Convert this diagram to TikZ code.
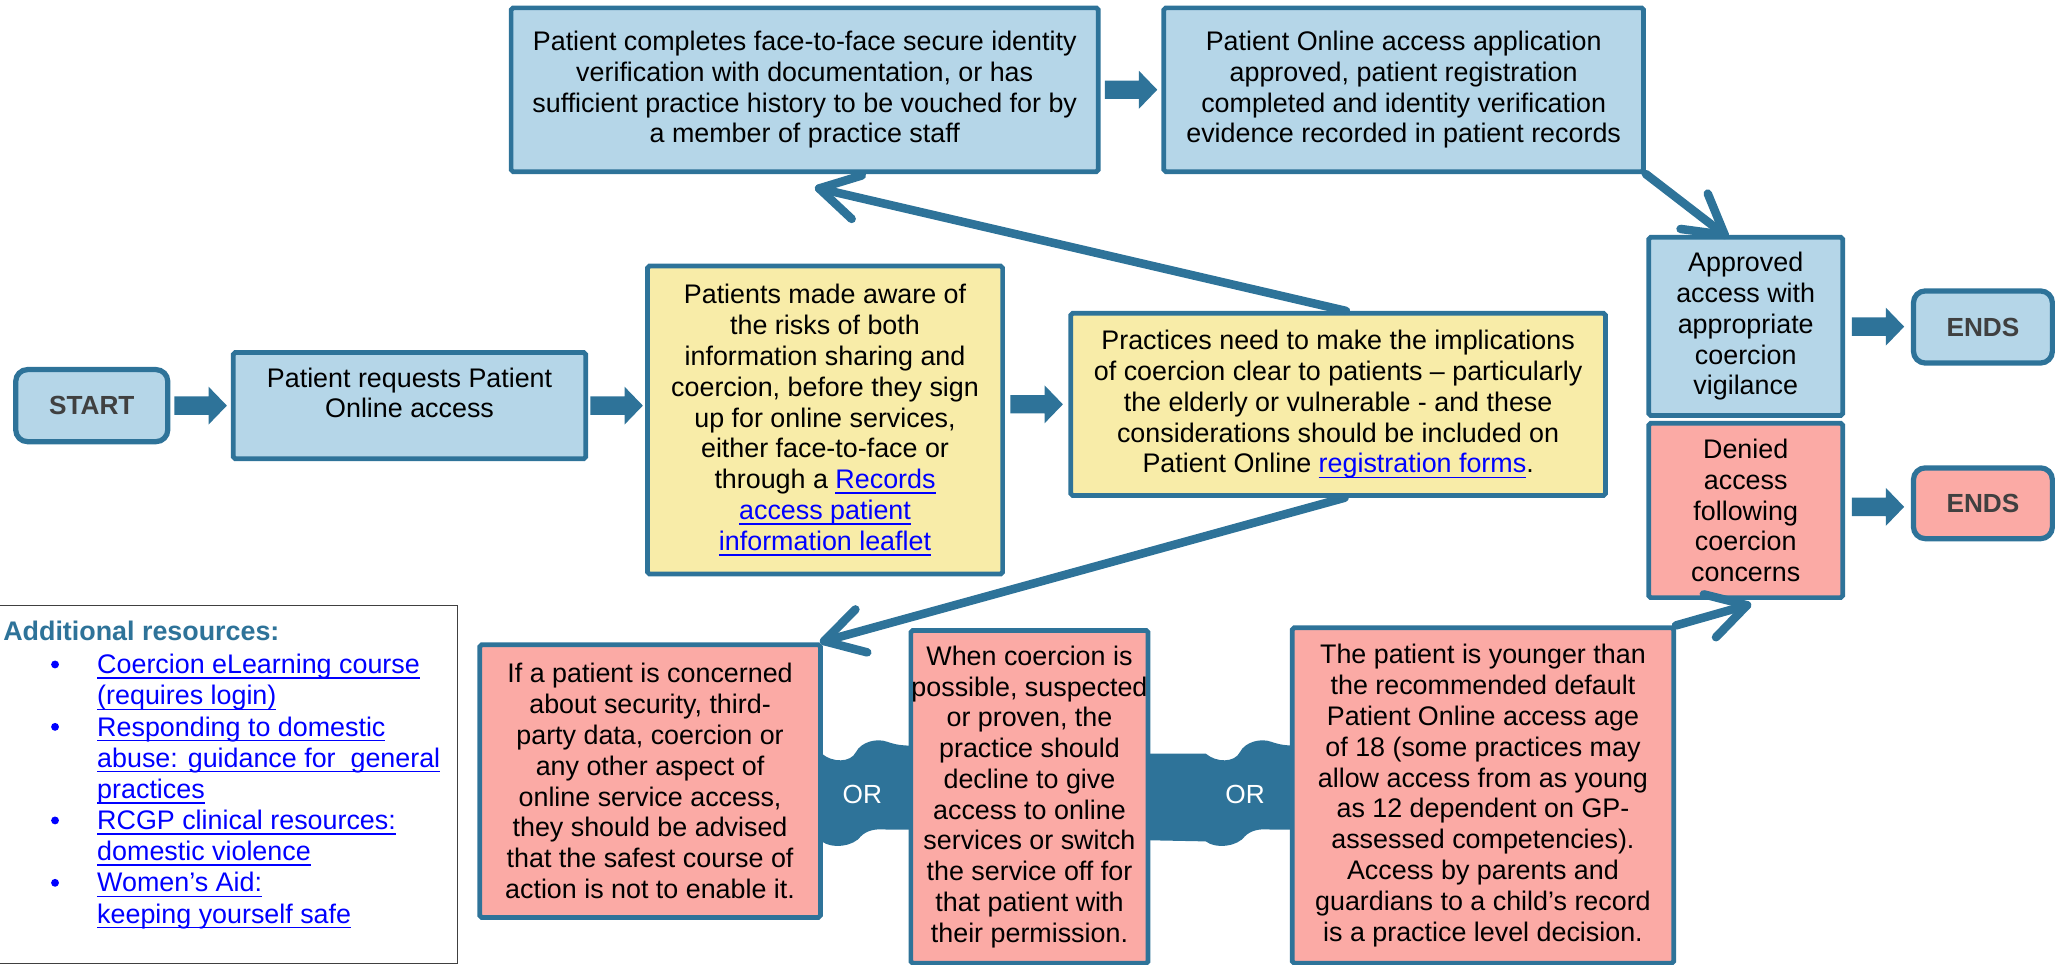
\documentclass[tikz,border=0pt]{standalone}
\usepackage{fontspec}
\setmainfont{Liberation Sans}
\usetikzlibrary{calc}
\definecolor{bord}{HTML}{2E7399}
\definecolor{bluefill}{HTML}{B5D6E8}
\definecolor{yelfill}{HTML}{F8ECA8}
\definecolor{redfill}{HTML}{FBAAA5}
\definecolor{linkblue}{HTML}{0000FF}
\definecolor{endtext}{HTML}{404040}
\newcommand\myul[1]{\leavevmode\setbox0\hbox{#1}\rlap{\rule[-4pt]{\wd0}{1.2pt}}\box0}
\newcommand\lnk[1]{{\color{linkblue}\myul{#1}}}
\newcommand\bodysize{\fontsize{20.5}{23.5}\selectfont}
\newcommand\blockarrow[1]{\fill[bord] ($(#1)+(-20,-7)$) -- ++(26,0) -- ++(0,-7.5) -- ++(14,14.5) -- ++(-14,14.5) -- ++(0,-7.5) -- ++(-26,0) -- cycle;}
\newcommand\lconn[2]{%
  \draw[conn] (#1) -- (#2);
  \draw[conn] ($(#2)!34pt!30:(#1)$) -- (#2) -- ($(#2)!34pt!-30:(#1)$);}
\newcommand\orband[3]{%
  \fill[bord] (#1,575) -- ({#3-30},575) .. controls ({#3-22},582) and ({#3-8},582) .. ({#3-4},574)
    .. controls ({#3},566) and ({#3+12},563) .. ({#3+20},566)
    .. controls ({#3+26},568) and ({#3+30},569) .. (#2,569) -- (#2,633) -- ({#3+20},633)
    .. controls ({#3+10},632) and ({#3+4},634) .. ({#3},638)
    .. controls ({#3-6},646) and ({#3-22},648) .. ({#3-30},642) -- (#1,641) -- cycle;}
\tikzset{
  box/.style={draw=bord, line width=3.6pt, rounded corners=1.5pt, align=center, inner sep=0pt, font=\bodysize, text=black},
  bluebox/.style={box, fill=bluefill},
  yelbox/.style={box, fill=yelfill},
  redbox/.style={box, fill=redfill},
  termbox/.style={draw=bord, line width=4pt, rounded corners=9pt, inner sep=0pt, font=\fontsize{20}{24}\selectfont\bfseries, text=endtext},
  conn/.style={draw=bord, line width=6.5pt, line cap=round, line join=round},
  ortext/.style={text=white, inner sep=0pt, font=\fontsize{20}{24}\selectfont},
  linkline/.style={anchor=base west, inner sep=0pt, font=\bodysize, text=linkblue},
  bulletdot/.style={fill=linkblue},
}
\begin{document}
\begin{tikzpicture}[x=1pt, y=-1pt]
\useasboundingbox (0,0) rectangle (1568,736.3);

% OR connectors (behind boxes)
\orband{620}{699}{657}
\orband{870}{992}{950}

% top row
\node[bluebox, minimum width=448pt, minimum height=125pt] (top1) at (614,68.5)
  {Patient completes face-to-face secure identity\\verification with documentation, or has\\sufficient practice history to be vouched for by\\a member of practice staff};
\node[bluebox, minimum width=366pt, minimum height=125pt] (top2) at (1071,68.5)
  {Patient Online access application\\approved, patient registration\\completed and identity verification\\evidence recorded in patient records};

% middle row
\node[termbox, fill=bluefill, minimum width=116pt, minimum height=55pt] (start) at (70,309.5) {START};
\node[bluebox, minimum width=269pt, minimum height=81pt] (req) at (312.5,309.5)
  {Patient requests Patient\\Online access\\[-4pt]};
\node[yelbox, minimum width=271pt, minimum height=235pt] (y1) at (629.5,320.5)
  {Patients made aware of\\the risks of both\\information sharing and\\coercion, before they sign\\up for online services,\\either face-to-face or\\through a \lnk{Records}\\\lnk{access patient}\\\lnk{information leaflet}};
\node[yelbox, minimum width=408pt, minimum height=139pt] (y2) at (1021,308.5)
  {Practices need to make the implications\\of coercion clear to patients – particularly\\the elderly or vulnerable - and these\\considerations should be included on\\Patient Online \lnk{registration forms}.};
\node[bluebox, minimum width=148pt, minimum height=136pt] (appr) at (1332,249)
  {Approved\\access with\\appropriate\\coercion\\vigilance};
\node[redbox, minimum width=148pt, minimum height=133pt] (deny) at (1332,389.5)
  {Denied\\access\\following\\coercion\\concerns};
\node[termbox, fill=bluefill, minimum width=106pt, minimum height=55pt] (ends1) at (1513,249.5) {ENDS};
\node[termbox, fill=redfill, minimum width=106pt, minimum height=54pt] (ends2) at (1513,384) {ENDS};

% bottom row
\node[redbox, minimum width=260pt, minimum height=208pt] (red1) at (496,596)
  {If a patient is concerned\\about security, third-\\party data, coercion or\\any other aspect of\\online service access,\\they should be advised\\that the safest course of\\action is not to enable it.};
\node[redbox, minimum width=181pt, minimum height=254pt] (red2) at (785.5,608)
  {When coercion is\\possible, suspected\\or proven, the\\practice should\\decline to give\\access to online\\services or switch\\the service off for\\that patient with\\their permission.};
\node[redbox, minimum width=291pt, minimum height=256pt] (red3) at (1131.5,607)
  {The patient is younger than\\the recommended default\\Patient Online access age\\of 18 (some practices may\\allow access from as young\\as 12 dependent on GP-\\assessed competencies).\\Access by parents and\\guardians to a child’s record\\is a practice level decision.};
\node[ortext] (or1) at (658,606) {OR};
\node[ortext] (or2) at (950,606) {OR};

% block arrows
\coordinate (ba1) at ($(start.east)!0.5!(req.west)$);
\coordinate (ba2) at ($(req.east)!0.5!(req.east -| y1.west)$);
\coordinate (ba3) at ($(y2.west)!0.5!(y2.west -| y1.east)$);
\coordinate (ba4) at ($(top1.east)!0.5!(top2.west)$);
\coordinate (ba5) at ($(appr.east)!0.5!(ends1.west)$);
\coordinate (ba6) at ($(deny.east)!0.5!(ends2.west)$);
\blockarrow{ba1}
\blockarrow{ba2}
\blockarrow{ba3}
\blockarrow{ba4}
\blockarrow{ba5}
\blockarrow{ba6}

% line connectors
\coordinate (c1s) at ($(y2.north)+(6,0)$);
\coordinate (c1e) at ($(top1.south)+(11,11)$);
\coordinate (c2s) at ($(y2.south)+(5,0)$);
\coordinate (c2e) at ($(red1.north east)+(1,-1)$);
\coordinate (c3s) at (top2.south east);
\coordinate (c3e) at ($(appr.north)+(-16,0)$);
\coordinate (c4s) at (red3.north east);
\coordinate (c4e) at ($(deny.south)+(1,4)$);
\lconn{c1s}{c1e}
\lconn{c2s}{c2e}
\lconn{c3s}{c3e}
\lconn{c4s}{c4e}

% resources
\node[draw=black!75, line width=1.2pt, fill=white, minimum width=351pt, minimum height=273pt, inner sep=0pt] (res) at (173.5,598.5) {};
\node[anchor=base west, inner sep=0pt, font=\bodysize\bfseries, text=bord] (restitle) at (2.3,489) {Additional resources:};
\node[linkline] (l0) at (74,514) {\myul{Coercion eLearning course}};
\node[linkline] (l1) at (74,537.8) {\myul{(requires login)}};
\node[linkline] (l2) at (74,561.6) {\myul{Responding to domestic}};
\node[linkline] (l3) at (74,585.4) {\myul{abuse: guidance for\ \ general}};
\node[linkline] (l4) at (74,609.2) {\myul{practices}};
\node[linkline] (l5) at (74,633) {\myul{RCGP clinical resources:}};
\node[linkline] (l6) at (74,656.8) {\myul{domestic violence}};
\node[linkline] (l7) at (74,680.6) {\myul{Women’s Aid:}};
\node[linkline] (l8) at (74,704.4) {\myul{keeping yourself safe}};
\fill[bulletdot] ($(l0.base west)+(-32,-7)$) circle (3);
\fill[bulletdot] ($(l2.base west)+(-32,-7)$) circle (3);
\fill[bulletdot] ($(l5.base west)+(-32,-7)$) circle (3);
\fill[bulletdot] ($(l7.base west)+(-32,-7)$) circle (3);
\end{tikzpicture}
\end{document}
